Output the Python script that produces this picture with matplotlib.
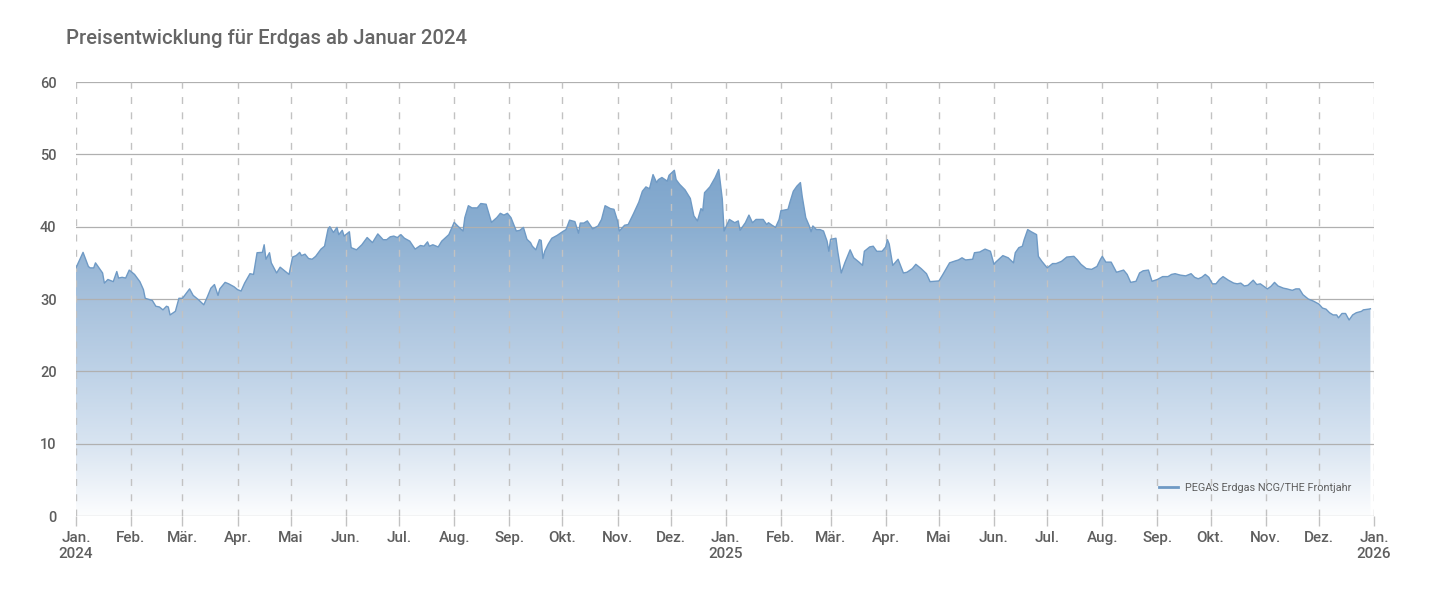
import numpy as np
import pandas as pd
import matplotlib
matplotlib.use("Agg")
import matplotlib.pyplot as plt
import matplotlib.dates as mdates
from matplotlib.colors import LinearSegmentedColormap

# days since 2024-01-01 and price in EUR/MWh
day_offset = [
    0, 4, 7, 8, 10, 11, 13, 15, 16, 18, 21, 23, 24, 26, 28, 30, 33, 36, 38, 39,
    43, 45, 47, 49, 51, 52, 53, 56, 58, 60, 64, 66, 69, 72, 74, 76, 78, 80, 81, 84,
    86, 89, 91, 93, 95, 98, 100, 102, 105, 106, 107, 109, 110, 113, 115, 120, 122, 124, 126, 127,
    129, 131, 133, 135, 138, 140, 142, 143, 145, 147, 148, 150, 151, 154, 155, 158, 161, 164, 167, 170,
    173, 175, 177, 179, 181, 183, 185, 188, 191, 194, 196, 198, 199, 201, 204, 206, 210, 213, 215, 218,
    219, 221, 223, 226, 228, 231, 234, 237, 239, 241, 243, 245, 248, 250, 252, 254, 256, 257, 259, 261,
    262, 263, 264, 266, 268, 271, 274, 276, 278, 281, 283, 284, 286, 288, 291, 294, 296, 298, 301, 303,
    305, 306, 309, 311, 314, 317, 319, 321, 323, 325, 327, 328, 330, 333, 334, 337, 338, 340, 343, 344,
    346, 348, 350, 352, 353, 354, 357, 360, 362, 364, 365, 368, 371, 373, 374, 377, 379, 381, 383, 387,
    389, 390, 392, 394, 396, 397, 401, 402, 404, 406, 408, 409, 411, 413, 414, 415, 417, 419, 421, 423,
    424, 425, 428, 429, 431, 433, 436, 438, 441, 443, 444, 447, 449, 451, 454, 456, 457, 458, 460, 463,
    466, 468, 471, 473, 476, 479, 481, 486, 488, 492, 495, 497, 499, 501, 505, 506, 509, 512, 515, 517,
    518, 522, 525, 528, 529, 531, 533, 534, 536, 538, 541, 542, 544, 547, 550, 552, 555, 558, 562, 564,
    566, 569, 572, 575, 577, 578, 580, 583, 586, 590, 592, 594, 597, 599, 601, 604, 606, 609, 612, 615,
    617, 619, 622, 625, 628, 630, 632, 634, 636, 638, 640, 642, 644, 646, 649, 652, 654, 656, 658, 660,
    663, 665, 667, 669, 671, 673, 675, 677, 680, 682, 685, 687, 689, 691, 694, 697, 700, 702, 704, 706,
    708, 710, 711, 713, 715, 717, 719, 721, 724, 725, 728, 729,
]
price = [
    34.3, 36.45, 34.5, 34.3, 34.3, 35.0, 34.3, 33.6, 32.2, 32.7, 32.4, 33.8, 32.9, 33.0, 32.9, 34.0, 33.4, 32.4, 31.3, 30.1,
    29.8, 29.0, 28.9, 28.5, 29.0, 28.9, 27.8, 28.3, 30.1, 30.1, 31.4, 30.5, 29.9, 29.2, 30.3, 31.5, 32.0, 30.5, 31.4, 32.3,
    32.1, 31.7, 31.3, 31.1, 32.2, 33.5, 33.4, 36.4, 36.45, 37.5, 35.5, 36.4, 35.0, 33.6, 34.4, 33.4, 35.8, 36.0, 36.45, 36.0,
    36.2, 35.6, 35.5, 35.9, 36.9, 37.3, 39.7, 40.0, 39.2, 39.9, 38.9, 39.5, 38.7, 39.3, 37.1, 36.8, 37.5, 38.5, 37.8, 39.0,
    38.2, 38.2, 38.6, 38.7, 38.5, 38.9, 38.4, 38.0, 36.9, 37.4, 37.3, 37.9, 37.3, 37.5, 37.2, 38.0, 38.9, 40.6, 40.1, 39.4,
    41.25, 42.9, 42.6, 42.6, 43.2, 43.1, 40.6, 41.25, 41.85, 41.6, 41.85, 41.25, 39.4, 39.5, 39.9, 38.25, 37.8, 37.3, 36.8, 38.2,
    38.1, 35.6, 36.6, 37.6, 38.4, 38.8, 39.3, 39.6, 40.9, 40.7, 39.1, 40.5, 40.5, 40.8, 39.7, 40.1, 41.0, 42.9, 42.5, 42.4,
    40.8, 39.4, 40.2, 40.3, 41.8, 43.4, 44.9, 45.5, 45.25, 47.2, 46.1, 46.5, 46.8, 46.3, 47.1, 47.8, 46.5, 45.85, 45.1, 44.7,
    43.9, 41.5, 40.8, 42.5, 42.2, 44.7, 45.5, 46.8, 47.9, 43.8, 39.4, 41.0, 40.55, 40.8, 39.5, 40.55, 41.6, 40.55, 41.0, 41.0,
    40.3, 40.55, 40.2, 39.9, 41.0, 42.2, 42.4, 43.3, 44.9, 45.6, 46.1, 44.2, 41.25, 40.1, 39.3, 40.1, 39.6, 39.6, 39.4, 38.0,
    36.6, 38.25, 38.4, 36.6, 33.6, 35.0, 36.8, 35.7, 35.1, 34.65, 36.6, 37.2, 37.3, 36.6, 36.6, 37.2, 38.2, 37.6, 34.65, 35.5,
    33.6, 33.7, 34.2, 34.8, 34.2, 33.5, 32.4, 32.5, 33.3, 35.0, 35.25, 35.4, 35.7, 35.4, 35.5, 36.4, 36.5, 36.9, 36.6, 34.8,
    35.1, 36.0, 35.7, 35.0, 36.4, 37.1, 37.3, 38.2, 39.6, 39.3, 38.9, 35.9, 35.2, 34.3, 34.9, 34.9, 35.2, 35.8, 35.9, 35.4,
    34.8, 34.2, 34.1, 34.5, 35.5, 35.9, 35.1, 35.1, 33.7, 34.0, 33.4, 32.3, 32.45, 33.6, 33.9, 34.0, 32.45, 32.7, 33.1, 33.1,
    33.4, 33.5, 33.3, 33.2, 33.5, 33.0, 32.8, 33.0, 33.4, 33.0, 32.1, 32.1, 32.7, 33.1, 32.6, 32.2, 32.1, 32.2, 31.8, 31.9,
    32.6, 32.0, 32.1, 31.75, 31.4, 31.75, 32.3, 31.8, 31.5, 31.4, 31.2, 31.4, 31.4, 30.6, 30.0, 29.7, 29.3, 28.75, 28.6, 28.1,
    27.8, 27.8, 27.4, 28.0, 28.0, 27.1, 27.8, 28.1, 28.3, 28.5, 28.6, 28.65,
]
month_labels = ["Jan.", "Feb.", "Mär.", "Apr.", "Mai", "Jun.", "Jul.", "Aug.",
                "Sep.", "Okt.", "Nov.", "Dez."]
title = "Preisentwicklung für Erdgas ab Januar 2024"
series_name = "PEGAS Erdgas NCG/THE Frontjahr"

plt.rcParams["font.family"] = ["Roboto", "DejaVu Sans"]
text_col = "#5e5e5e"

dates = pd.Timestamp("2024-01-01") + pd.to_timedelta(day_offset, unit="D")
x = mdates.date2num(dates)
y = np.array(price)

fig = plt.figure(figsize=(14.33, 5.9), dpi=100)
ax = fig.add_axes([0.053, 0.1254, 0.9058, 0.7356])

x0 = mdates.date2num(pd.Timestamp("2024-01-01"))
x1 = mdates.date2num(pd.Timestamp("2026-01-01"))
ax.set_xlim(x0, x1)
ax.set_ylim(0, 60)

# gradient fill under the curve, clipped to the area
poly = ax.fill_between(x, y, 0, color="none", lw=0)
cmap = LinearSegmentedColormap.from_list(
    "gas", ["#fcfdfe", "#d8e4f1", "#bed2e7", "#a7c1dc", "#8aaed1", "#7aa2ca"])
grad = np.linspace(0, 1, 256).reshape(-1, 1)
img = ax.imshow(grad, extent=[x[0], x[-1], 0, 50], origin="lower",
                aspect="auto", cmap=cmap, zorder=1)
img.set_clip_path(poly.get_paths()[0], transform=ax.transData)
ax.plot(x, y, color="#6f9ac5", lw=1.0, zorder=3)

# grid
for v in range(0, 61, 10):
    ax.axhline(v, color="#b0b0b0", lw=0.9, zorder=2)
months = pd.date_range("2024-01-01", "2026-01-01", freq="MS")
for m in months:
    ax.axvline(mdates.date2num(m), color="#c2c2c2", lw=1.0,
               ls=(0, (5, 6)), zorder=2)

for s in ax.spines.values():
    s.set_visible(False)

ax.set_yticks(range(0, 61, 10))
ax.tick_params(axis="y", length=0, pad=14, labelsize=10.5, labelcolor=text_col)
for lab in ax.get_yticklabels():
    lab.set_fontweight("medium")

xt_labels = []
for m in months:
    lab = month_labels[m.month - 1]
    if m.month == 1:
        lab = f"{lab}\n{m.year}"
    xt_labels.append(lab)
ax.set_xticks(mdates.date2num(months))
ax.set_xticklabels(xt_labels, linespacing=1.2, fontweight="medium")
ax.tick_params(axis="x", length=7, width=1.0, color="#c2c2c2",
               pad=4, labelsize=11, labelcolor=text_col)

fig.text(0.046, 0.935, title, fontsize=14.6, color="#666666",
         ha="left", va="center", fontweight="medium")

# legend
ax.legend([plt.Line2D([], [], color="#6f9ac5", lw=2)], [series_name],
          loc="lower right", bbox_to_anchor=(0.99, 0.03), frameon=False,
          fontsize=7.8, labelcolor=text_col, handlelength=1.8,
          handletextpad=0.6)

fig.savefig("out.png", dpi=100, facecolor="white")
